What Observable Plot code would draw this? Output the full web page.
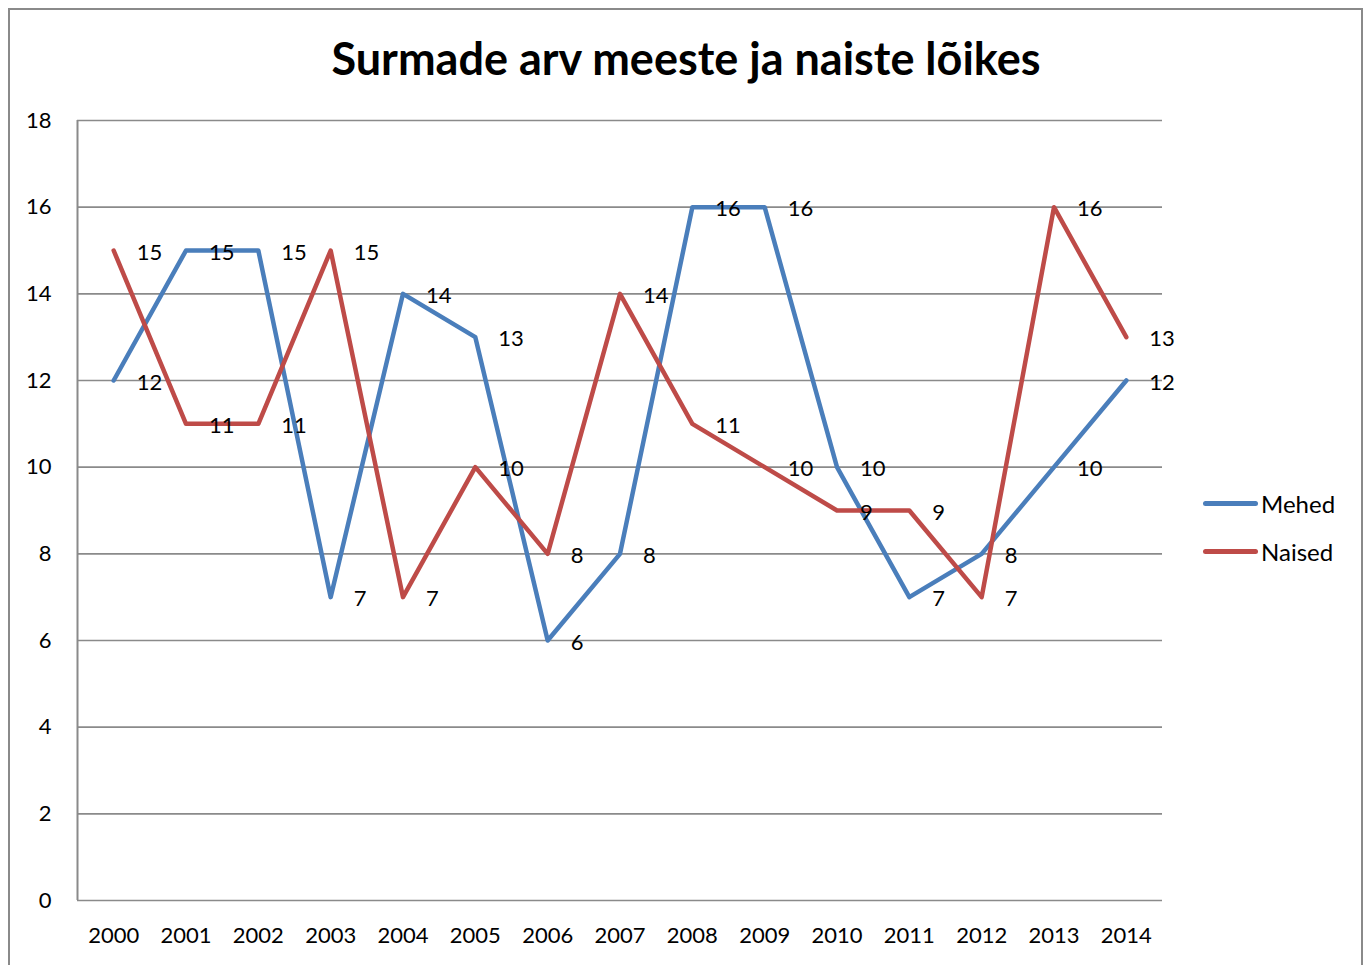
<!DOCTYPE html>
<html>
<head>
<meta charset="utf-8">
<script src="https://cdn.jsdelivr.net/npm/d3@7"></script>
<script src="https://cdn.jsdelivr.net/npm/@observablehq/plot@0.6"></script>
<style>
  html, body { margin: 0; padding: 0; background: #fff; }
  #wrap { position: relative; width: 1368px; height: 965px; overflow: hidden; font-family: Lato, "Open Sans", sans-serif; }
  #border { position: absolute; left: 8px; top: 8px; width: 1355px; height: 980px; border: 2px solid #8a8a8a; box-sizing: border-box; }
  #title { position: absolute; left: 0; width: 1372px; top: 31px; text-align: center; font-size: 45px; font-weight: bold; color: #000; }
  #chart { position: absolute; left: 0; top: 0; }
  .leg { position: absolute; left: 1203px; display: flex; align-items: center; font-size: 24px; color: #000; }
  .leg span.sw { display: inline-block; width: 55px; height: 5px; border-radius: 3px; margin-right: 3px; }
</style>
</head>
<body>
<div id="wrap">
  <div id="border"></div>
  <div id="chart"></div>
  <div id="title">Surmade arv meeste ja naiste lõikes</div>
  <div id="legend"></div>
</div>
<script>
const years = ["2000","2001","2002","2003","2004","2005","2006","2007","2008","2009","2010","2011","2012","2013","2014"];
const mehed = [12,15,15,7,14,13,6,8,16,16,10,7,8,10,12];
const naised = [15,11,11,15,7,10,8,14,11,10,9,9,7,16,13];
const seriesNames = ["Mehed","Naised"];
const seriesColors = ["#4a7ebb","#be4b48"];
const yTicks = [0,2,4,6,8,10,12,14,16,18];

const data = [];
years.forEach((y,i) => {
  data.push({year: y, value: mehed[i], series: "Mehed"});
  data.push({year: y, value: naised[i], series: "Naised"});
});

const W = 1368, ML = 77, MR = 206;
const step = (W - ML - MR) / years.length;

const chart = Plot.plot({
  width: W,
  height: 965,
  marginLeft: ML,
  marginRight: MR,
  marginTop: 120,
  marginBottom: 65,
  style: {fontFamily: "Lato, 'Open Sans', sans-serif", fontSize: "22px", color: "#000", background: "transparent"},
  x: {type: "point", domain: years, padding: 0.5, round: false, label: null},
  y: {domain: [0,18], label: null},
  color: {domain: seriesNames, range: seriesColors},
  marks: [
    Plot.gridY(yTicks, {stroke: "#8a8a8a", strokeOpacity: 1, strokeWidth: 1.6}),
    Plot.ruleX([years[0]], {x: d => d, y1: 0, y2: 18, stroke: "#8a8a8a", strokeWidth: 2, dx: -step / 2}),
    Plot.axisY(yTicks, {tickSize: 0, tickPadding: 26, fontSize: 22, label: null}),
    Plot.axisX(years, {tickSize: 0, tickPadding: 27, fontSize: 22, label: null}),
    Plot.lineY(data, {x: "year", y: "value", z: "series", stroke: "series", strokeWidth: 4.5, strokeLinejoin: "round", strokeLinecap: "round"}),
    Plot.text(data, {x: "year", y: "value", text: d => String(d.value), textAnchor: "start", dx: 23, dy: 2, fontSize: 22, fill: "#000"})
  ]
});
document.getElementById("chart").appendChild(chart);

const leg = document.getElementById("legend");
seriesNames.forEach((n, i) => {
  const d = document.createElement("div");
  d.className = "leg";
  d.style.top = (489 + i * 48) + "px";
  d.innerHTML = `<span class="sw" style="background:${seriesColors[i]}"></span>${n}`;
  leg.appendChild(d);
});
</script>
</body>
</html>
